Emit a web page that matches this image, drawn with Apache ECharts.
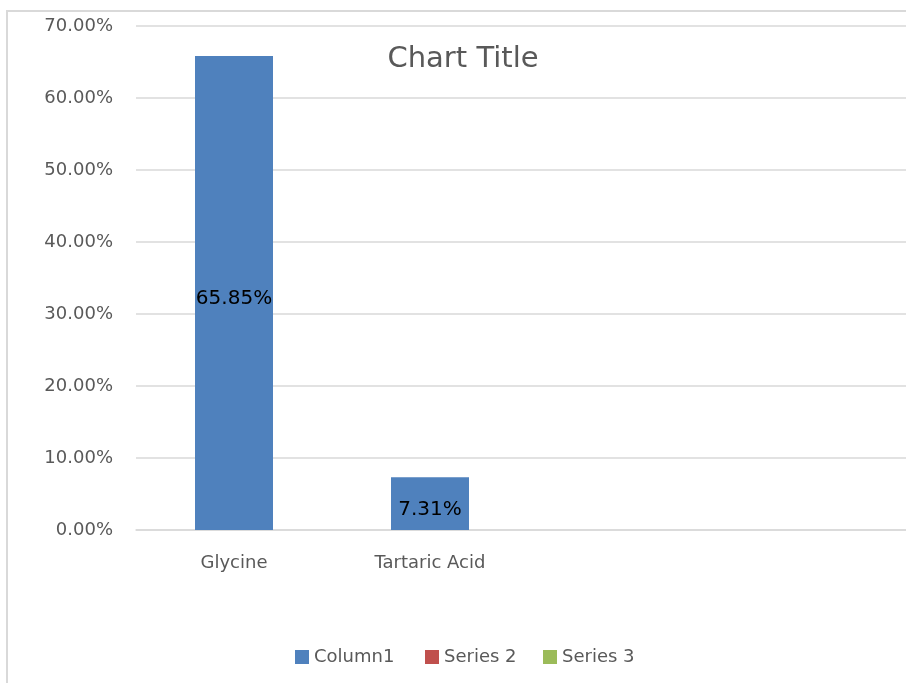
<!DOCTYPE html>
<html>
<head>
<meta charset="utf-8">
<script src="https://cdn.jsdelivr.net/npm/echarts@6/dist/echarts.min.js"></script>
<style>
html,body{margin:0;padding:0;background:#fff;overflow:hidden;width:906px;height:683px;}
#main{width:940px;height:683px;}
</style>
</head>
<body>
<div id="main"></div>
<script>
var categories = ['Glycine', 'Tartaric Acid', '', ''];
var column1 = [0.6585, 0.0731, null, null];
var series2 = [];
var series3 = [];
var yTicks = { min: 0, max: 0.7, interval: 0.1 };

var FONT = '"DejaVu Sans", "Liberation Sans", sans-serif';
var legendText = { fontFamily: FONT, fontSize: 18, color: '#595959' };
function mkLegend(name, left) {
  return {
    left: left, top: 643, itemWidth: 14, itemHeight: 14, icon: 'rect',
    textStyle: legendText, data: [name]
  };
}
var chart = echarts.init(document.getElementById('main'));
chart.setOption({
  animation: false,
  backgroundColor: '#ffffff',
  title: {
    text: 'Chart Title',
    left: 458, top: 40, textAlign: 'center',
    textStyle: { fontFamily: FONT, fontSize: 29, fontWeight: 'normal', color: '#595959' }
  },
  graphic: [{
    type: 'rect', silent: true,
    shape: { x: 7, y: 11, width: 960, height: 720 },
    style: { fill: 'none', stroke: '#D9D9D9', lineWidth: 2 }
  }],
  legend: [mkLegend('Column1', 290), mkLegend('Series 2', 420), mkLegend('Series 3', 538)],
  grid: { left: 136, top: 26, width: 784, bottom: 153, containLabel: false },
  xAxis: {
    type: 'category', data: categories,
    axisLine: { show: true, lineStyle: { color: '#D9D9D9', width: 1.5 } },
    axisTick: { show: false },
    axisLabel: { margin: 24, fontFamily: FONT, fontSize: 18, color: '#595959' }
  },
  yAxis: {
    type: 'value', min: yTicks.min, max: yTicks.max, interval: yTicks.interval,
    axisLine: { show: false }, axisTick: { show: false },
    splitLine: { lineStyle: { color: '#D9D9D9', width: 1.5 } },
    axisLabel: {
      margin: 23, fontFamily: FONT, fontSize: 18, color: '#595959',
      formatter: function (v) { return (v * 100).toFixed(2) + '%'; }
    }
  },
  series: [
    {
      name: 'Column1', type: 'bar', data: column1, barWidth: 78, barGap: '-100%',
      itemStyle: { color: '#4F81BD' },
      label: {
        show: true, position: 'inside', offset: [0, 6], fontFamily: FONT, fontSize: 20, color: '#000000',
        formatter: function (p) { return (p.value * 100).toFixed(2) + '%'; }
      }
    },
    { name: 'Series 2', type: 'bar', data: series2, barWidth: 78, barGap: '-100%', itemStyle: { color: '#C0504D' } },
    { name: 'Series 3', type: 'bar', data: series3, barWidth: 78, barGap: '-100%', itemStyle: { color: '#9BBB59' } }
  ]
});
</script>
</body>
</html>
